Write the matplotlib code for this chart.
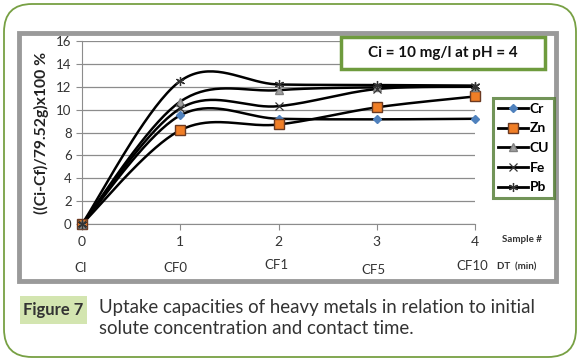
import numpy as np
import matplotlib
matplotlib.use("Agg")
import matplotlib.pyplot as plt
from matplotlib.patches import FancyBboxPatch, Rectangle
from matplotlib.lines import Line2D

plt.rcParams["font.family"] = ["Lato", "DejaVu Sans"]

# data
samples = [0, 1, 2, 3, 4]
dt_labels = ["CI", "CF0", "CF1", "CF5", "CF10"]
cr = [0, 9.5, 9.2, 9.15, 9.2]
zn = [0, 8.2, 8.7, 10.2, 11.15]
cu = [0, 10.7, 11.7, 11.95, 12.0]
fe = [0, 10.1, 10.3, 11.8, 12.0]
pb = [0, 12.5, 12.2, 12.15, 12.1]

W, H = 580, 363
fig = plt.figure(figsize=(W / 100, H / 100), dpi=100)


def px(x0, y0, x1, y1):
    return [x0 / W, 1 - y1 / H, (x1 - x0) / W, (y1 - y0) / H]


def smooth(x, y, n=40):
    # Excel-like smoothed line (Catmull-Rom as cubic Bezier)
    pts = np.column_stack([np.asarray(x, float), np.asarray(y, float)])
    out = []
    t = np.linspace(0, 1, n)[:, None]
    for i in range(len(pts) - 1):
        p0 = pts[max(i - 1, 0)]
        p1 = pts[i]
        p2 = pts[i + 1]
        p3 = pts[min(i + 2, len(pts) - 1)]
        c1 = p1 + (p2 - p0) / 6
        c2 = p2 - (p3 - p1) / 6
        seg = ((1 - t) ** 3) * p1 + 3 * ((1 - t) ** 2) * t * c1 + 3 * (1 - t) * t ** 2 * c2 + t ** 3 * p2
        out.append(seg)
    out = np.vstack(out)
    return out[:, 0], out[:, 1]


# background decoration
bg = fig.add_axes([0, 0, 1, 1])
bg.set_xlim(0, W)
bg.set_ylim(H, 0)
bg.axis("off")
bg.add_patch(FancyBboxPatch((4, 4), W - 8, H - 10, boxstyle="round,pad=0,rounding_size=28",
                            fc="white", ec="#77a043", lw=1.3))
bg.add_patch(Rectangle((19, 33), 537, 248, fc="white", ec="#9a9a9a", lw=3.5))
bg.add_patch(Rectangle((20, 296), 67, 28, fc="#d3e5b0", ec="none"))
bg.text(53.5, 310, "Figure 7", ha="center", va="center", fontsize=12, fontweight="bold", color="#333333")
bg.text(99, 307, "Uptake capacities of heavy metals in relation to initial",
        ha="left", va="center", fontsize=13.4, color="#333333")
bg.text(99, 329, "solute concentration and contact time.",
        ha="left", va="center", fontsize=13.4, color="#333333")

ax = fig.add_axes(px(82, 41, 475, 224))
ax.patch.set_alpha(0)
series = [
    ("Cr", cr, dict(marker="D", ms=4.5, mfc="#4f81bd", mec="#4f81bd")),
    ("Zn", zn, dict(marker="s", ms=6.5, mfc="#f07e26", mec="#6b3a22", mew=1)),
    ("CU", cu, dict(marker="^", ms=6, mfc="#a0a0a0", mec="#808080")),
    ("Fe", fe, dict(marker="x", ms=5.5, mec="#333333", mew=0.9)),
    ("Pb", pb, dict(marker=(6, 2, 0), ms=6.5, mec="#333333", mew=0.9)),
]
for name, vals, mk in series:
    sx, sy = smooth(samples, vals)
    ax.plot(sx, sy, color="black", lw=1.8, zorder=3)
    ax.plot(samples, vals, ls="none", zorder=4, clip_on=False, **mk)

ax.set_xlim(0, 4)
ax.set_ylim(0, 16)
ax.set_yticks(range(0, 17, 2))
ax.set_xticks(samples)
ax.grid(axis="y", color="#8c8c8c", lw=0.9, zorder=0)
for s in ["top", "right"]:
    ax.spines[s].set_visible(False)
for s in ["left", "bottom"]:
    ax.spines[s].set_color("#8c8c8c")
ax.tick_params(axis="both", colors="#8c8c8c", labelcolor="#333333", labelsize=9.5, length=4)
ax.tick_params(axis="x", pad=5, labelsize=10)
ax.set_ylabel("((Ci-Cf)/79.52g)x100 %", fontsize=11.3, fontweight="bold", color="#222222", labelpad=5)

# legend
handles = [Line2D([], [], color="black", lw=2, **mk) for _, _, mk in series]
leg = ax.legend(handles, [s[0] for s in series], loc="upper left",
                bbox_to_anchor=((493 - 82) / 393, (224 - 98) / 183),
                frameon=True, fancybox=False, handlelength=2.2, handletextpad=0.1,
                borderpad=0.35, labelspacing=0.55, borderaxespad=0,
                prop=dict(weight="bold", size=10))
leg.get_frame().set_edgecolor("#4f7a2e")
leg.get_frame().set_linewidth(2.2)

# foreground overlay: second x-label row and annotation box
fg = fig.add_axes([0, 0, 1, 1])
fg.set_xlim(0, W)
fg.set_ylim(H, 0)
fg.axis("off")
fg.patch.set_alpha(0)
dt_x = [81, 175, 276, 373, 472]
dt_y = [268, 268, 265, 270, 266]
for xp, yp, lab in zip(dt_x, dt_y, dt_labels):
    fg.text(xp, yp, lab, ha="center", va="center", fontsize=9.5, color="#333333")
fg.text(502, 239, "Sample #", ha="left", va="center", fontsize=7, fontweight="bold", color="#333333")
fg.text(497, 267, "DT  (min)", ha="left", va="center", fontsize=7, fontweight="bold", color="#333333")
fg.add_patch(Rectangle((341, 37), 204, 32, fc="white", ec="#6e9b3d", lw=2.5))
fg.text(443, 53.5, "Ci = 10 mg/l at pH = 4", ha="center", va="center",
        fontsize=11, fontweight="bold", color="#111111")

fig.savefig("out.png", dpi=100)
